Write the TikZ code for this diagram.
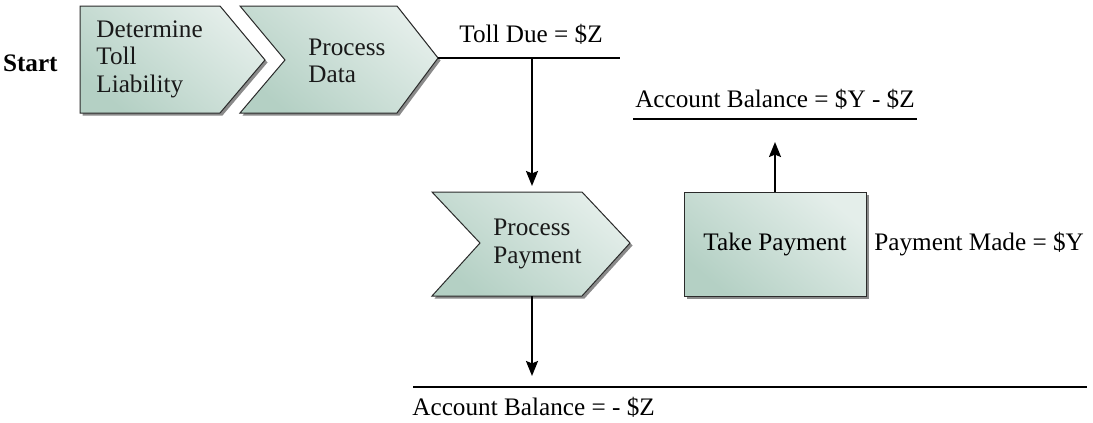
\documentclass[tikz,border=0pt]{standalone}
\usepackage{fontspec}
\setmainfont{Liberation Serif}
\usetikzlibrary{arrows.meta}

\definecolor{shapeDark}{HTML}{B4D0C4}
\definecolor{shapeLight}{HTML}{E4EEEA}
\definecolor{shapeEdge}{HTML}{2A2A2A}
\definecolor{shadowGray}{HTML}{8A8A8A}

\tikzset{
  procshape/.style={draw=shapeEdge, line width=0.5pt,
    top color=shapeLight, bottom color=shapeDark, shading angle=-40},
  shadowshape/.style={fill=shadowGray, draw=none},
  label/.style={inner sep=0pt, font=\fontsize{12.6}{13.8}\selectfont},
  inlabel/.style={label, align=left, text=black!90},
  flow/.style={line width=1pt, -{Stealth[length=7.5pt,width=6pt,inset=1.2pt]}},
  rule/.style={line width=0.65pt},
}

\begin{document}
\begin{tikzpicture}[x=0.5pt, y=-0.5pt]
\useasboundingbox (0,0) rectangle (1093,423);

% step shapes: shadow first, then the shaded outline
\foreach \dx/\col in {2.5/shadowshape, 0/procshape}{
  \path[\col, shift={(\dx,\dx)}]
    (80,6) -- (220,6) -- (265,60) -- (220,113) -- (80,113) -- cycle;
  \path[\col, shift={(\dx,\dx)}]
    (240,6) -- (397,6) -- (438,58) -- (397,113) -- (240,113) -- (285,60) -- cycle;
  \path[\col, shift={(\dx,\dx)}]
    (432,192) -- (582,192) -- (630,243) -- (582,296) -- (432,296) -- (480,243) -- cycle;
  \path[\col, shift={(\dx,\dx)}]
    (684,192) rectangle (866,296);
}

% anchor points on the shapes and rules
\coordinate (dataTip) at (438,58);
\coordinate (tollEnd) at (620,58);
\coordinate (tollDrop) at (532,58);
\coordinate (payTop) at (532,186);
\coordinate (payBottom) at (532,296);
\coordinate (balanceHit) at (532,376);
\coordinate (balL) at (413,387);
\coordinate (balR) at (1087,387);
\coordinate (takeTop) at (775,192);
\coordinate (newBalHit) at (775,142);
\coordinate (newBalL) at (633,119);
\coordinate (newBalR) at (917,119);

% texts
\node[label, anchor=east, font=\fontsize{12.6}{13.8}\selectfont\bfseries] (start) at (58,63) {Start};
\node[inlabel, anchor=west] (determine) at (96,59) {Determine\\Toll\\Liability};
\node[inlabel, anchor=west] (procdata) at (308,61) {Process\\Data};
\node[inlabel, anchor=west] (procpay) at (493,244) {Process\\Payment};
\node[label] (take) at (775,244) {Take Payment};
\node[label] (tolldue) at (531,34) {Toll Due = \$Z};
\node[label] (newbal) at (775,99) {Account Balance = \$Y - \$Z};
\node[label, anchor=west] (balance) at (412,407) {Account Balance = - \$Z};
\node[label, anchor=west] (paid) at (874,244) {Payment Made = \$Y};

% rules and connectors
\draw[rule] (dataTip) -- (tollEnd);
\draw[rule] (balL) -- (balR);
\draw[rule] (newBalL) -- (newBalR);
\draw[flow] (tollDrop) -- (payTop);
\draw[flow] (payBottom) -- (balanceHit);
\draw[flow] (takeTop) -- (newBalHit);
\end{tikzpicture}
\end{document}
